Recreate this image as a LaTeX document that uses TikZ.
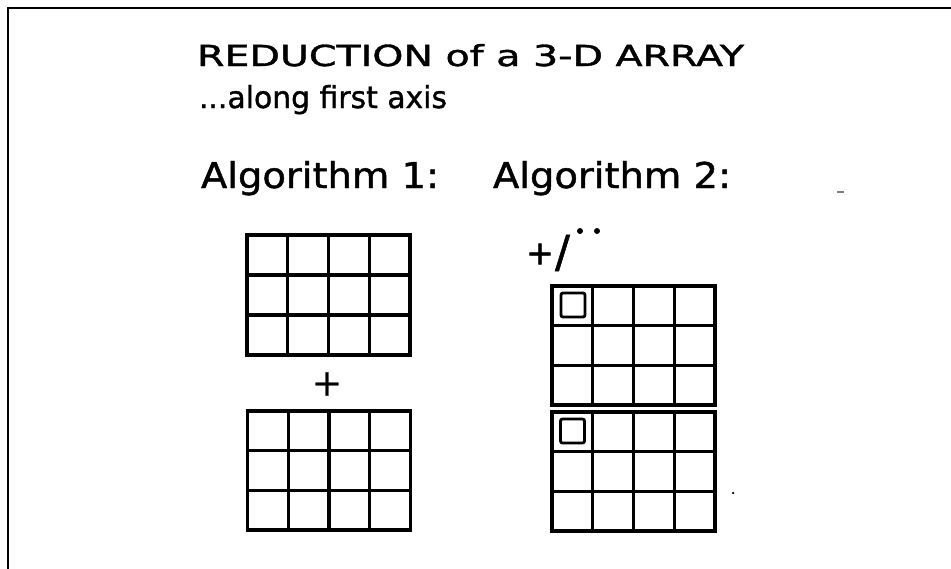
\documentclass[tikz,border=0pt]{standalone}
\usepackage{fontspec}
\setmainfont{DejaVu Sans}[FakeBold=1.2]
\usetikzlibrary{calc}
\tikzset{
  px/.style={x=1pt,y=-1pt},
  frameline/.style={line width=2.6pt, line cap=rect},
  arr/.style={draw, line width=3.2pt, rectangle, inner sep=0pt, outer sep=0pt, minimum width=163pt, minimum height=119pt},
  gline/.style={line width=3.2pt},
  inner/.style={draw, line width=2.8pt, rectangle, rounded corners=2pt, inner sep=0pt, outer sep=0pt, minimum width=24pt, minimum height=24pt},
  txt/.style={anchor=base west, inner sep=0pt, outer sep=0pt},
  dot/.style={circle, fill=black, inner sep=0pt, minimum size=6pt}
}
\newcommand{\cellgrid}[1]{%
  \foreach \i in {1,2,3} \draw[gline] ($(#1.north west)!\i/4!(#1.north east)$) -- ($(#1.south west)!\i/4!(#1.south east)$);
  \foreach \j in {1,2} \draw[gline] ($(#1.north west)!\j/3!(#1.south west)$) -- ($(#1.north east)!\j/3!(#1.south east)$);
}
\begin{document}
\begin{tikzpicture}[px]
\useasboundingbox (0,0) rectangle (951,568);
\fill[white] (0,0) rectangle (951,568);
% frame (top and left edges)
\coordinate (fbl) at (8,568);
\coordinate (ftl) at (8,8);
\coordinate (ftr) at (951,8);
\draw[frameline] (fbl) -- (ftl) -- (ftr);
% texts
\node[txt] (title) at (197,66) {\resizebox{547pt}{22pt}{REDUCTION of a 3-D ARRAY}};
\node[txt] (sub) at (199,108) {\resizebox{248pt}{23pt}{...along first axis}};
\node[txt] (alg1) at (201,188) {\resizebox{238pt}{27pt}{Algorithm 1:}};
\node[txt] (alg2) at (493,188) {\resizebox{238pt}{27pt}{Algorithm 2:}};
% Algorithm 1
\node[arr, minimum height=120pt] (a1) at (328.5,295) {};
\cellgrid{a1}
\node[inner sep=0pt] (plus) at (327,384) {\fontsize{36}{36}\selectfont +};
\node[arr] (a2) at (329,470.5) {};
\cellgrid{a2}
% Algorithm 2
\node[inner sep=0pt] (rplus) at (540,254) {\fontsize{33}{33}\selectfont +};
\node[inner sep=0pt] (rslash) at (562.5,253) {\fontsize{44}{44}\selectfont /};
\node[dot] (d1) at (580,231) {};
\node[dot] (d2) at (597,231) {};
\node[arr] (b1) at (633.5,345.5) {};
\cellgrid{b1}
\node[inner] (s1) at (573,305) {};
\node[arr] (b2) at (633.5,471.5) {};
\cellgrid{b2}
\node[inner] (s2) at (572.5,431) {};
% small marks
\coordinate (m1) at (837,192);
\coordinate (m2) at (844,192);
\draw[gray, line width=1.2pt] (m1) -- (m2);
\node[circle, fill=black, inner sep=0pt, minimum size=2.5pt] (sd) at (733,493) {};
\end{tikzpicture}
\end{document}
